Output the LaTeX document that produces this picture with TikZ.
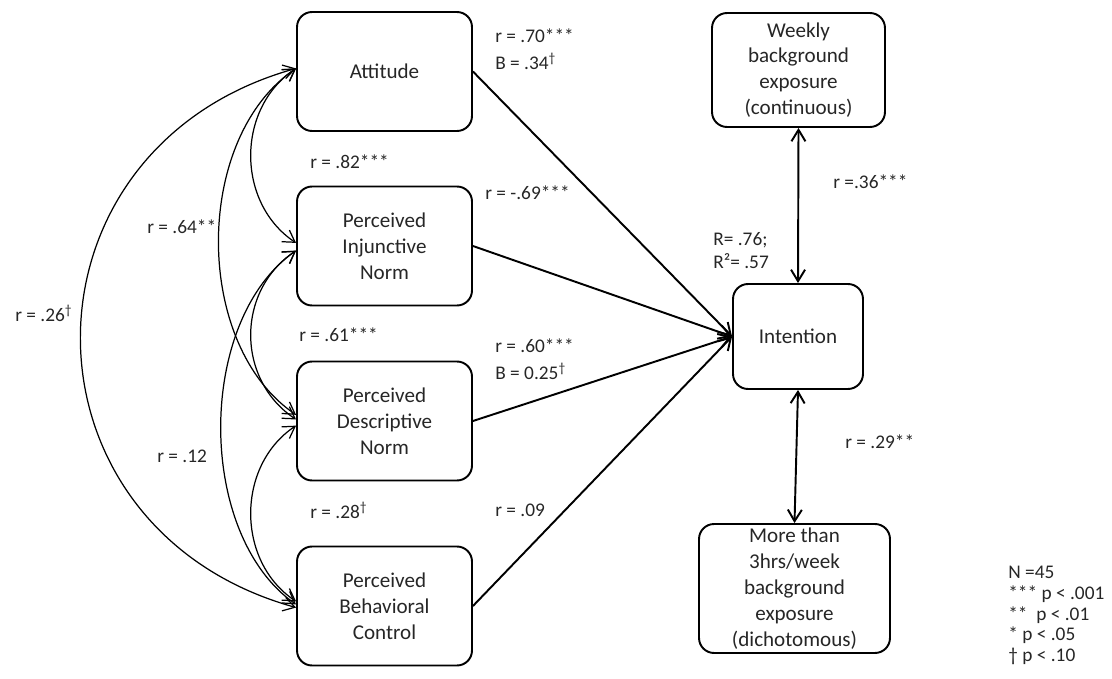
\documentclass[tikz,border=0pt]{standalone}
\usepackage{fontspec}
\setmainfont{Carlito}
\usetikzlibrary{arrows.meta}
\tikzset{
  varbox/.style={draw,line width=1.1pt,rounded corners=0.3cm,align=center,
    minimum width=3.5cm,minimum height=2.38cm,text=black!85,
    font=\fontsize{12}{14.7}\selectfont},
  lab/.style={anchor=west,align=left,inner sep=0pt,text=black!85,
    font=\fontsize{11}{15.3}\selectfont},
  path/.style={line width=1.1pt,->},
  bidir/.style={line width=1.1pt,<->},
  corr/.style={line width=0.7pt,<->}
}
\begin{document}
\begin{tikzpicture}[x=0.02cm,y=-0.02cm,>={Straight Barb[length=2.3mm,width=2.8mm]}]
\useasboundingbox (0,0) rectangle (1112,679);
% predictors
\node[varbox] (att) at (384.5,71.5) {Attitude};
\node[varbox] (inj) at (384.5,246) {Perceived\\Injunctive\\Norm};
\node[varbox] (des) at (384.5,421) {Perceived\\Descriptive\\Norm};
\node[varbox] (pbc) at (384.5,606) {Perceived\\Behavioral\\Control};
% outcome and exposure
\node[varbox,minimum width=2.6cm,minimum height=2.1cm] (intent) at (798,336.5) {Intention};
\node[varbox,minimum width=3.46cm,minimum height=2.28cm,inner sep=0pt] (weekly) at (798.5,70) {Weekly\\background\\exposure\\(continuous)};
\node[varbox,minimum width=3.82cm,minimum height=2.58cm,inner sep=0pt] (more) at (794.5,588.5) {More than\\3hrs/week\\background\\exposure\\(dichotomous)};
% paths to intention
\foreach \n in {att,inj,des,pbc} {
  \draw[path] (\n.east) -- (intent.west);
}
\draw[bidir] (weekly.south) -- (intent.north);
\draw[bidir] (more.north) -- (intent.south);
% correlations among predictors
\draw[corr] (att.178) .. controls +(-60,40) and +(-60,-40) .. (inj.178);
\draw[corr] (att.178) .. controls +(-103,70) and +(-103,-70) .. (des.176);
\draw[corr] (att.178) .. controls +(-287,80) and +(-287,-80) .. (pbc.181);
\draw[corr] (inj.183) .. controls +(-60,40) and +(-60,-40) .. (des.179);
\draw[corr] (inj.183) .. controls +(-100,70) and +(-100,-70) .. (pbc.179);
\draw[corr] (des.183) .. controls +(-60,40) and +(-60,-40) .. (pbc.177);
% labels
\node[lab] (l1) at (495,49.5) {r = .70***\\B = .34\textsuperscript{†}};
\node[lab] (l2) at (310,162) {r = .82***};
\node[lab] (l3) at (485,193) {r = -.69***};
\node[lab] (l4) at (147,227) {r = .64**};
\node[lab,font=\fontsize{11}{13.6}\selectfont] (l5) at (713,250.5) {R= .76;\\R²= .57};
\node[lab] (l6) at (833,182) {r =.36***};
\node[lab] (l7) at (15,313) {r = .26\textsuperscript{†}};
\node[lab] (l8) at (299,335) {r = .61***};
\node[lab] (l9) at (495,359.5) {r = .60***\\B = 0.25\textsuperscript{†}};
\node[lab] (l10) at (845,442) {r = .29**};
\node[lab] (l11) at (157,456) {r = .12};
\node[lab] (l12) at (310,510) {r = .28\textsuperscript{†}};
\node[lab] (l13) at (495,510) {r = .09};
% legend
\node[lab,font=\fontsize{11}{11.9}\selectfont] (leg) at (1008,615.5) {N =45\\*** p < .001\\**\ \ p < .01\\* p < .05\\† p < .10};
\end{tikzpicture}
\end{document}
